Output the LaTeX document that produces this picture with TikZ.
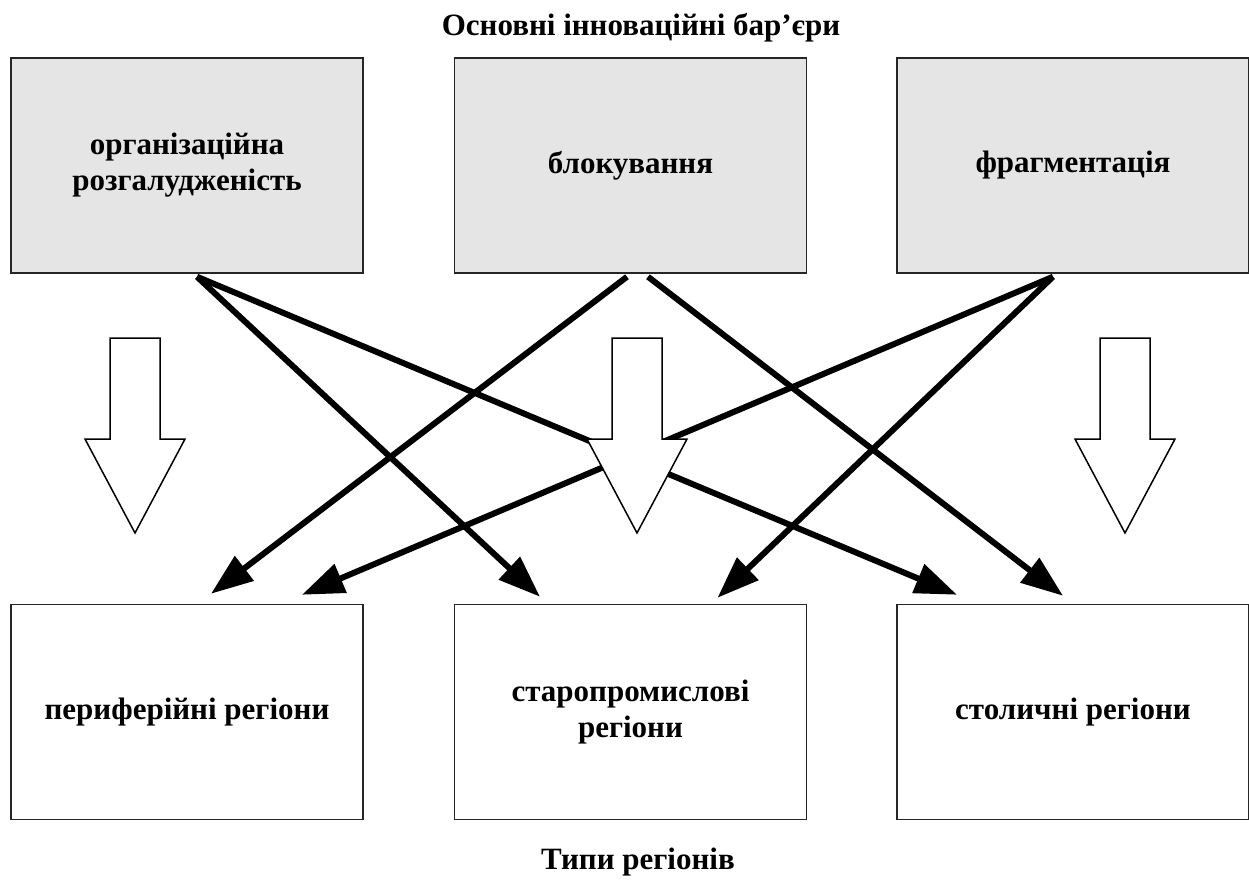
\documentclass[tikz,border=0pt]{standalone}
\usepackage{fontspec}
\setmainfont{Liberation Serif}
\usetikzlibrary{
    arrows.meta,
    calc,
    positioning
}
\tikzset{barbox/.style={draw=black!85, line width=0.75pt, fill=black!10, minimum width=176pt, minimum height=107.5pt, inner sep=0pt, align=center, font=\fontsize{15.5}{18}\selectfont\bfseries}}
\tikzset{regbox/.style={barbox, fill=white}}
\tikzset{infl/.style={line width=3pt, -{Triangle[length=21pt, width=15pt]}}}
\tikzset{hollowarr/.style={draw=black, line width=0.75pt, fill=white, line join=miter}}

\begin{document}
\begin{tikzpicture}[x=0.5pt, y=-0.5pt]
                        \useasboundingbox (0, 0) rectangle (1249, 885);
                        \node[font=\fontsize{15.5}{18}\selectfont\bfseries] (bar) at (641, 28) {Основні інноваційні бар’єри};
                        \node[barbox] (org) at (187, 165.5) {організаційна\\розгалудженість};
                        \node[barbox] (blok) at (630.5, 165.5) {блокування};
                        \node[barbox] (frag) at (1073, 165.5) {фрагментація};
                        \node[regbox] (peri) at (187, 712) {периферійні регіони};
                        \node[regbox] (staro) at (630.5, 712) {старопромислові\\регіони};
                        \node[regbox] (stol) at (1073, 712) {столичні регіони};
                        \node[font=\fontsize{15.5}{18}\selectfont\bfseries] (types) at (638, 862) {Типи регіонів};

                        \draw[infl] ([shift={(10, 3)}]org.south) -- ([shift={(-90.5, -7)}]staro.north);
                        \draw[infl] ([shift={(10, 3)}]org.south) -- ([shift={(-116, -9)}]stol.north);
                        \draw[infl] ([shift={(-3.5, 3)}]blok.south) -- ([shift={(24, -10)}]peri.north);
                        \draw[infl] ([shift={(17.5, 3)}]blok.south) -- ([shift={(-10, -8)}]stol.north);
                        \draw[infl] ([shift={(-20, 3)}]frag.south) -- ([shift={(115, -9)}]peri.north);
                        \draw[infl] ([shift={(-20, 3)}]frag.south) -- ([shift={(87, -6)}]staro.north);

                        % hollow arrows between the rows
                        \foreach \c in {135, 637, 1125}
                            \draw[hollowarr] (\c-25, 338) -- (\c+25, 338) -- (\c+25, 439) -- (\c+50, 439) -- (\c, 533) -- (\c-50, 439) -- (\c-25, 439) -- cycle;
                    \end{tikzpicture}
\end{document}
